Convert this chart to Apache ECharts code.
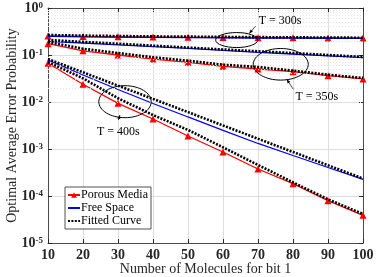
<!DOCTYPE html>
<html><head><meta charset="utf-8">
<script src="https://cdn.jsdelivr.net/npm/echarts@6/dist/echarts.min.js"></script>
<style>html,body{margin:0;padding:0;background:#fff}#c{width:378px;height:277px}</style>
</head><body><div id="c"></div>
<script>
// ---- data ----
const xValues = [10, 20, 30, 40, 50, 60, 70, 80, 90, 100];
const xTicks = [10, 20, 30, 40, 50, 60, 70, 80, 90, 100];
const yTickExponents = [-5, -4, -3, -2, -1, 0];

const porous300 = [0.255, 0.248, 0.244, 0.241, 0.238, 0.236, 0.234, 0.232, 0.231, 0.229];
const free300 = [0.250, 0.244, 0.240, 0.237, 0.234, 0.232, 0.230, 0.229, 0.227, 0.226];
const fit300 = [0.266, 0.259, 0.253, 0.249, 0.246, 0.243, 0.240, 0.238, 0.235, 0.233];

const porous350 = [0.174, 0.123, 0.100, 0.082, 0.0697, 0.0575, 0.0504, 0.0441, 0.0363, 0.0309];
const free350 = [0.195, 0.180, 0.165, 0.150, 0.138, 0.126, 0.114, 0.105, 0.096, 0.088];
const fitPorous350 = [0.189, 0.136, 0.110, 0.0893, 0.0756, 0.0622, 0.0556, 0.0464, 0.0381, 0.0324];
const fitFree350 = [0.209, 0.190, 0.174, 0.158, 0.144, 0.131, 0.120, 0.110, 0.100, 0.091];

const porous400 = [0.0666, 0.0238, 0.00938, 0.00435, 0.00189, 0.000864, 0.000375, 0.000183, 0.0000794, 0.0000388];
const free400 = [0.0783, 0.0375, 0.01845, 0.00929, 0.0048, 0.0025, 0.00131, 0.000727, 0.000404, 0.000227];
const fitPorous400 = [0.071, 0.0319, 0.0120, 0.00528, 0.00254, 0.001087, 0.000457, 0.000195, 0.000085, 0.0000414];
const fitFree400 = [0.082, 0.0428, 0.0223, 0.01164, 0.00608, 0.00317, 0.00165, 0.000863, 0.00045, 0.000235];

const legendNames = ['Porous Media', 'Free Space', 'Fitted Curve'];
const annotationLabels = ['T = 300s', 'T = 350s', 'T = 400s'];
// annotation anchors in data coordinates [x, y]
const ellipseCenters = [[63.9, 0.208], [76.5, 0.0634], [32, 0.01015]];
const labelAnchors = [[76.3, 0.537], [86.8, 0.013], [30.1, 0.00233]];

// ---- chart ----
const FONT = '"Liberation Serif", "Times New Roman", serif';
const AX = '#262626';
const chart = echarts.init(document.getElementById('c'), null, {renderer: 'canvas'});
const pairs = ys => xValues.map((x, i) => [x, ys[i]]);

function porous(ys) {
  return {name: legendNames[0], type: 'line', data: pairs(ys), symbol: 'triangle', symbolSize: 7,
    itemStyle: {color: '#ff0000'}, lineStyle: {color: '#ff0000', width: 1.3}, z: 3, animation: false};
}
function free(ys) {
  return {name: legendNames[1], type: 'line', data: pairs(ys), symbol: 'none', showSymbol: false,
    itemStyle: {color: '#0000ff'}, lineStyle: {color: '#0000ff', width: 1.3}, z: 4, animation: false};
}
function fitted(ys) {
  return {name: legendNames[2], type: 'line', data: pairs(ys), symbol: 'none', showSymbol: false,
    itemStyle: {color: '#000'}, lineStyle: {color: '#000', width: 2.6, type: [2, 1.4], cap: 'butt'}, z: 5, animation: false};
}

const minorVals = [];
yTickExponents.slice(0, -1).forEach(e => { for (let k = 2; k <= 9; k++) minorVals.push(k * Math.pow(10, e)); });

const series = [
  {type: 'line', data: [], silent: true, animation: false,
    markLine: {silent: true, symbol: 'none', animation: false, label: {show: false},
      lineStyle: {color: '#e4e4e4', type: [1, 2], width: 1},
      data: minorVals.map(v => ({yAxis: v}))}},
  porous(porous300), porous(porous350), porous(porous400),
  free(free300), free(free350), free(free400),
  fitted(fit300), fitted(fitFree350), fitted(fitPorous350), fitted(fitFree400), fitted(fitPorous400)
];

const yLabelRich = {
  b: {fontFamily: FONT, fontWeight: 'bold', fontSize: 14, color: AX},
  s: {fontFamily: FONT, fontWeight: 'bold', fontSize: 9, color: AX, verticalAlign: 'top'}
};

chart.setOption({
  animation: false,
  backgroundColor: '#fff',
  grid: {left: 48, right: 15, top: 8, bottom: 34, containLabel: false, outerBoundsMode: 'none'},
  legend: {
    data: [
      {name: legendNames[0]},
      {name: legendNames[1], itemStyle: {opacity: 0}},
      {name: legendNames[2], itemStyle: {opacity: 0}}
    ],
    orient: 'vertical', left: 65, top: 187,
    backgroundColor: '#fff', borderColor: AX, borderWidth: 0.8, padding: [2, 3, 2, 2],
    itemWidth: 12, itemHeight: 7, itemGap: 1,
    textStyle: {fontFamily: FONT, fontSize: 12, color: '#000', padding: [0, 0, 0, -4]}
  },
  xAxis: [{
    type: 'value', min: 10, max: 100, interval: 10,
    name: 'Number of Molecules for bit 1', nameLocation: 'middle', nameGap: 19, nameMoveOverlap: false,
    nameTextStyle: {fontFamily: FONT, fontSize: 14, color: AX},
    axisLine: {show: true, onZero: false, lineStyle: {color: AX, width: 0.8}},
    axisTick: {inside: true, length: 4, lineStyle: {color: AX}},
    axisLabel: {fontFamily: FONT, fontWeight: 'bold', fontSize: 14, color: AX, margin: 5,
      formatter: v => xTicks.includes(v) ? String(v) : ''},
    splitLine: {show: true, lineStyle: {color: '#dedede', width: 1}}
  }, {
    type: 'value', position: 'top', min: 10, max: 100, interval: 10,
    axisLine: {show: true, onZero: false, lineStyle: {color: AX, width: 0.8}},
    axisTick: {inside: true, length: 4, lineStyle: {color: AX}},
    axisLabel: {show: false}, splitLine: {show: false}
  }],
  yAxis: [{
    type: 'log', logBase: 10, min: 1e-5, max: 1,
    name: 'Optimal Average Error Probability', nameLocation: 'middle', nameGap: 29, nameMoveOverlap: false,
    nameTextStyle: {fontFamily: FONT, fontSize: 14, color: AX},
    axisLine: {show: true, onZero: false, lineStyle: {color: AX, width: 0.8}},
    axisTick: {inside: true, length: 4, lineStyle: {color: AX}},
    axisLabel: {margin: 5, rich: yLabelRich,
      formatter: v => '{b|10}{s|' + Math.round(Math.log10(v)) + '}'},
    splitLine: {show: true, lineStyle: {color: '#dedede', width: 1}}
  }, {
    type: 'log', logBase: 10, min: 1e-5, max: 1, position: 'right',
    axisLine: {show: true, onZero: false, lineStyle: {color: AX, width: 0.8}},
    axisTick: {inside: true, length: 4, lineStyle: {color: AX}},
    axisLabel: {show: false}, splitLine: {show: false}
  }],
  series: series
});

// ---- annotations ----
const toPx = d => chart.convertToPixel({xAxisIndex: 0, yAxisIndex: 0}, d);
const radii = [[21, 7.5], [27.5, 15.8], [26.2, 16]];
// arrow start/end as pixel offsets from ellipse centre
const arrows = [[[19, -14], [12.5, -6.5]], [[12.6, 25], [6, 15]], [[-6.7, 18.3], [-5, 13.3]]];
const graphics = [];
ellipseCenters.forEach((c, i) => {
  const p = toPx(c);
  graphics.push({type: 'ellipse', shape: {cx: p[0], cy: p[1], rx: radii[i][0], ry: radii[i][1]},
    style: {fill: null, stroke: '#000', lineWidth: 1}, z: 100, silent: true});
  const a = [p[0] + arrows[i][0][0], p[1] + arrows[i][0][1]];
  const b = [p[0] + arrows[i][1][0], p[1] + arrows[i][1][1]];
  const dx = b[0] - a[0], dy = b[1] - a[1], L = Math.hypot(dx, dy);
  const ux = dx / L, uy = dy / L;
  graphics.push({type: 'line', shape: {x1: a[0], y1: a[1], x2: b[0], y2: b[1]},
    style: {stroke: '#000', lineWidth: 0.7}, z: 100, silent: true});
  graphics.push({type: 'polygon', shape: {points: [b,
      [b[0] - 4 * ux + 1.6 * uy, b[1] - 4 * uy - 1.6 * ux],
      [b[0] - 4 * ux - 1.6 * uy, b[1] - 4 * uy + 1.6 * ux]]},
    style: {fill: '#000'}, z: 100, silent: true});
  const t = toPx(labelAnchors[i]);
  graphics.push({type: 'text', x: t[0], y: t[1], z: 100, silent: true,
    style: {text: annotationLabels[i], fontFamily: FONT, fontSize: 12, fill: '#000', align: 'center', verticalAlign: 'middle'}});
});
chart.setOption({graphic: graphics});
</script></body></html>
